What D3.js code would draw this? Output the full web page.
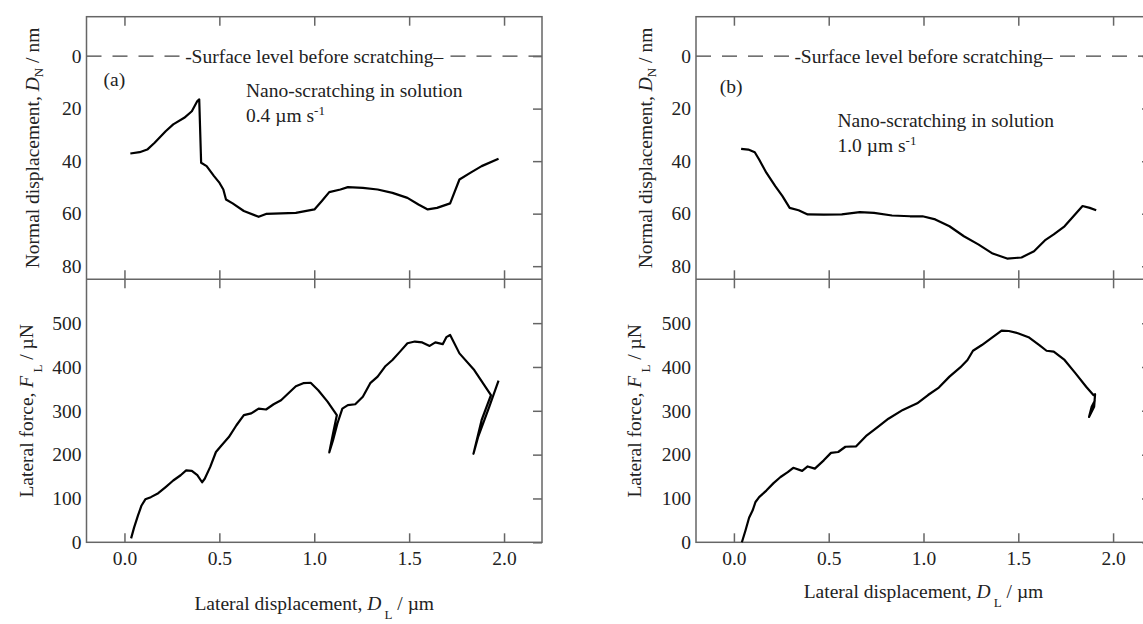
<!DOCTYPE html>
<html>
<head>
<meta charset="utf-8">
<script src="https://cdn.jsdelivr.net/npm/d3@7"></script>
<style>
  body { margin: 0; background: #fff; }
  text { font-family: "Liberation Serif", "Times New Roman", serif; fill: #222; }
</style>
</head>
<body>
<div id="chart"></div>
<script>
const width = 1143, height = 624;
const fs = 19.5, fsSmall = 13;

// ticks
const xTicks = [0, 0.5, 1.0, 1.5, 2.0];
const normTicks = [0, 20, 40, 60, 80];
const forceTicks = [0, 100, 200, 300, 400, 500];

// (a) 0.4 um/s - normal displacement
const aNormX = [0.031, 0.08, 0.12, 0.159, 0.217, 0.257, 0.315, 0.355, 0.384, 0.394, 0.404, 0.433, 0.472, 0.501, 0.521, 0.535, 0.57, 0.629, 0.707, 0.746, 0.825, 0.903, 1.001, 1.04, 1.079, 1.138, 1.177, 1.256, 1.334, 1.412, 1.491, 1.549, 1.598, 1.647, 1.716, 1.765, 1.824, 1.882, 1.971];
const aNormY = [37.1, 36.6, 35.6, 33, 28.6, 26, 23.5, 21, 17.1, 16.5, 40.6, 41.9, 45.7, 48.3, 50.8, 54.6, 56.1, 59, 61.2, 60.1, 59.9, 59.7, 58.4, 55.2, 51.8, 50.8, 49.9, 50.2, 50.8, 52.1, 54, 56.5, 58.4, 57.8, 56.1, 47, 44.4, 41.9, 39.1];

// (a) lateral force
const aForceX = [0.035, 0.051, 0.071, 0.09, 0.11, 0.139, 0.178, 0.217, 0.257, 0.296, 0.325, 0.355, 0.384, 0.409, 0.423, 0.452, 0.482, 0.511, 0.55, 0.59, 0.629, 0.668, 0.707, 0.746, 0.786, 0.825, 0.864, 0.903, 0.942, 0.981, 1.021, 1.07, 1.119, 1.099, 1.079, 1.099, 1.122, 1.148, 1.177, 1.216, 1.256, 1.295, 1.334, 1.373, 1.412, 1.452, 1.491, 1.53, 1.569, 1.608, 1.638, 1.677, 1.696, 1.716, 1.765, 1.843, 1.931, 1.882, 1.839, 1.863, 1.922, 1.971];
const aForceY = [9, 34, 61, 84, 98, 103, 112, 126, 141, 153, 164, 163, 153, 137, 145, 172, 206, 221, 240, 267, 290, 294, 305, 303, 315, 324, 340, 356, 363, 364, 347, 321, 290, 248, 205, 233, 271, 305, 313, 315, 332, 363, 378, 401, 416, 435, 454, 458, 456, 448, 456, 452, 468, 473, 431, 393, 336, 279, 202, 240, 309, 369];

// (b) 1.0 um/s - normal displacement
const bNormX = [0.038, 0.076, 0.11, 0.133, 0.171, 0.218, 0.256, 0.294, 0.341, 0.389, 0.474, 0.569, 0.664, 0.739, 0.834, 0.929, 0.995, 1.062, 1.137, 1.213, 1.289, 1.365, 1.441, 1.517, 1.583, 1.64, 1.687, 1.744, 1.791, 1.839, 1.877, 1.911];
const bNormY = [35.3, 35.6, 36.6, 39.4, 44.4, 49.5, 53.3, 57.8, 58.7, 60.3, 60.4, 60.3, 59.4, 59.7, 60.7, 61, 61, 62.2, 64.8, 68.6, 71.7, 75.2, 77.1, 76.7, 74.3, 70.2, 67.9, 64.8, 61, 57.1, 57.8, 58.7];

// (b) lateral force
const bForceX = [0.042, 0.061, 0.08, 0.099, 0.114, 0.133, 0.171, 0.209, 0.246, 0.284, 0.313, 0.36, 0.389, 0.427, 0.474, 0.512, 0.55, 0.588, 0.645, 0.701, 0.758, 0.815, 0.891, 0.967, 1.024, 1.081, 1.137, 1.194, 1.232, 1.261, 1.308, 1.365, 1.412, 1.45, 1.498, 1.554, 1.611, 1.649, 1.687, 1.744, 1.801, 1.858, 1.896, 1.905, 1.9, 1.873, 1.887, 1.905];
const bForceY = [0, 27, 56, 73, 92, 103, 118, 135, 149, 160, 170, 163, 173, 168, 187, 204, 206, 218, 219, 244, 263, 282, 302, 317, 336, 353, 378, 399, 416, 437, 450, 468, 483, 482, 477, 468, 450, 437, 435, 416, 386, 355, 336, 338, 309, 286, 309, 324];

const frameColor = '#666';

const svg = d3.select('#chart')
  .append('svg')
  .attr('width', width)
  .attr('height', height);

const panels = [
  { x0: 86.5, x1: 542, tag: '(a)', tagX: -0.11, tagY: 11.4,
    noteX: 0.64, noteY: 15.6, speed: '0.4',
    normX: aNormX, normY: aNormY, forceX: aForceX, forceY: aForceY,
    normTitleOff: 48, forceTitleOff: 54, xTitleY: 610 },
  { x0: 696, x1: 1151, tag: '(b)', tagX: -0.075, tagY: 14.1,
    noteX: 0.546, noteY: 26.9, speed: '1.0',
    normX: bNormX, normY: bNormY, forceX: bForceX, forceY: bForceY,
    normTitleOff: 44, forceTitleOff: 55, xTitleY: 598 }
];

const yTopPx = 16.7, yMidPx = 279.3, yBotPx = 542.3;

function styleAxis(g) {
  g.select('.domain').remove();
  g.selectAll('.tick line').attr('stroke', frameColor).attr('stroke-width', 1.5);
  g.selectAll('.tick text').attr('font-size', fs).style('fill', '#222');
  g.attr('font-family', null);
}

panels.forEach(p => {
  const x = d3.scaleLinear().domain([-0.2, 2.2]).range([p.x0, p.x1]);
  const yN = d3.scaleLinear().domain([-15, 85]).range([yTopPx, yMidPx]);
  const yF = d3.scaleLinear().domain([0, 600]).range([yBotPx, yMidPx]);

  const g = svg.append('g');

  // dashed surface line
  g.append('line')
    .attr('x1', p.x0).attr('x2', p.x1)
    .attr('y1', yN(0)).attr('y2', yN(0))
    .attr('stroke', '#444').attr('stroke-width', 1.3)
    .attr('stroke-dasharray', '15,11');

  const surf = g.append('text')
    .attr('x', x(1.0)).attr('y', yN(0) + 6.5)
    .attr('text-anchor', 'middle')
    .attr('font-size', fs)
    .text('-Surface level before scratching\u2013');
  const bb = surf.node().getBBox();
  g.insert('rect', 'text')
    .attr('x', bb.x + 1).attr('y', bb.y + 2)
    .attr('width', bb.width - 4).attr('height', bb.height - 4)
    .attr('fill', '#fff');

  // axes: tick labels
  g.append('g')
    .attr('transform', `translate(${p.x0},0)`)
    .call(d3.axisLeft(yN).tickValues(normTicks).tickSize(0).tickPadding(5))
    .call(styleAxis);
  g.append('g')
    .attr('transform', `translate(${p.x0},0)`)
    .call(d3.axisLeft(yF).tickValues(forceTicks).tickSize(0).tickPadding(5))
    .call(styleAxis);
  g.append('g')
    .attr('transform', `translate(0,${yBotPx})`)
    .call(d3.axisBottom(x).tickValues(xTicks).tickSize(-9).tickPadding(9).tickFormat(d3.format('.1f')))
    .call(styleAxis);

  // inward ticks on right side and top/middle
  g.append('g')
    .attr('transform', `translate(${p.x1},0)`)
    .call(d3.axisLeft(yN).tickValues(normTicks).tickSize(9).tickFormat(''))
    .call(styleAxis);
  g.append('g')
    .attr('transform', `translate(${p.x1},0)`)
    .call(d3.axisLeft(yF).tickValues(forceTicks).tickSize(9).tickFormat(''))
    .call(styleAxis);
  g.append('g')
    .attr('transform', `translate(0,${yTopPx})`)
    .call(d3.axisBottom(x).tickValues(xTicks).tickSize(9).tickFormat(''))
    .call(styleAxis);
  g.append('g')
    .attr('transform', `translate(0,${yMidPx})`)
    .call(d3.axisBottom(x).tickValues(xTicks).tickSize(9).tickFormat(''))
    .call(styleAxis);
  g.append('g')
    .attr('transform', `translate(0,${yMidPx})`)
    .call(d3.axisTop(x).tickValues(xTicks).tickSize(9).tickFormat(''))
    .call(styleAxis);

  // frame
  g.append('rect')
    .attr('x', p.x0).attr('y', yTopPx)
    .attr('width', p.x1 - p.x0).attr('height', yBotPx - yTopPx)
    .attr('fill', 'none').attr('stroke', frameColor).attr('stroke-width', 1.5);
  g.append('line')
    .attr('x1', p.x0).attr('x2', p.x1)
    .attr('y1', yMidPx).attr('y2', yMidPx)
    .attr('stroke', frameColor).attr('stroke-width', 1.5);

  // curves
  const lineN = d3.line().x(i => x(p.normX[i])).y(i => yN(p.normY[i]));
  const lineF = d3.line().x(i => x(p.forceX[i])).y(i => yF(p.forceY[i]));
  g.append('path')
    .attr('d', lineN(d3.range(p.normX.length)))
    .attr('fill', 'none').attr('stroke', '#000').attr('stroke-width', 2.2)
    .attr('stroke-linejoin', 'round');
  g.append('path')
    .attr('d', lineF(d3.range(p.forceX.length)))
    .attr('fill', 'none').attr('stroke', '#000').attr('stroke-width', 2.2)
    .attr('stroke-linejoin', 'round');

  // annotations
  g.append('text')
    .attr('x', x(p.tagX)).attr('y', yN(p.tagY))
    .attr('font-size', fs).text(p.tag);
  g.append('text')
    .attr('x', x(p.noteX)).attr('y', yN(p.noteY))
    .attr('font-size', fs).text('Nano-scratching in solution');
  const sp = g.append('text')
    .attr('x', x(p.noteX)).attr('y', yN(p.noteY) + 25)
    .attr('font-size', fs);
  sp.append('tspan').text(p.speed + ' \u00b5m s');
  sp.append('tspan').attr('font-size', fsSmall).attr('dy', -7).text('-1');

  // axis titles
  const tN = g.append('text')
    .attr('transform', `translate(${p.x0 - p.normTitleOff},${(yTopPx + yMidPx) / 2}) rotate(-90)`)
    .attr('text-anchor', 'middle')
    .attr('font-size', fs);
  tN.append('tspan').text('Normal displacement, ');
  tN.append('tspan').attr('font-style', 'italic').text('D');
  tN.append('tspan').attr('font-size', fsSmall).attr('dy', 4).text('N');
  tN.append('tspan').attr('dy', -4).text(' / nm');

  const tF = g.append('text')
    .attr('transform', `translate(${p.x0 - p.forceTitleOff},${(yMidPx + yBotPx) / 2}) rotate(-90)`)
    .attr('text-anchor', 'middle')
    .attr('font-size', fs);
  tF.append('tspan').text('Lateral force, ');
  tF.append('tspan').attr('font-style', 'italic').text('F');
  tF.append('tspan').attr('font-size', fsSmall).attr('dy', 9).text(' L');
  tF.append('tspan').attr('dy', -9).text(' / \u00b5N');

  const tX = g.append('text')
    .attr('x', (p.x0 + p.x1) / 2).attr('y', p.xTitleY)
    .attr('text-anchor', 'middle')
    .attr('font-size', fs);
  tX.append('tspan').text('Lateral displacement, ');
  tX.append('tspan').attr('font-style', 'italic').text('D');
  tX.append('tspan').attr('font-size', fsSmall).attr('dy', 9).text(' L');
  tX.append('tspan').attr('dy', -9).text(' / \u00b5m');
});
</script>
</body>
</html>
